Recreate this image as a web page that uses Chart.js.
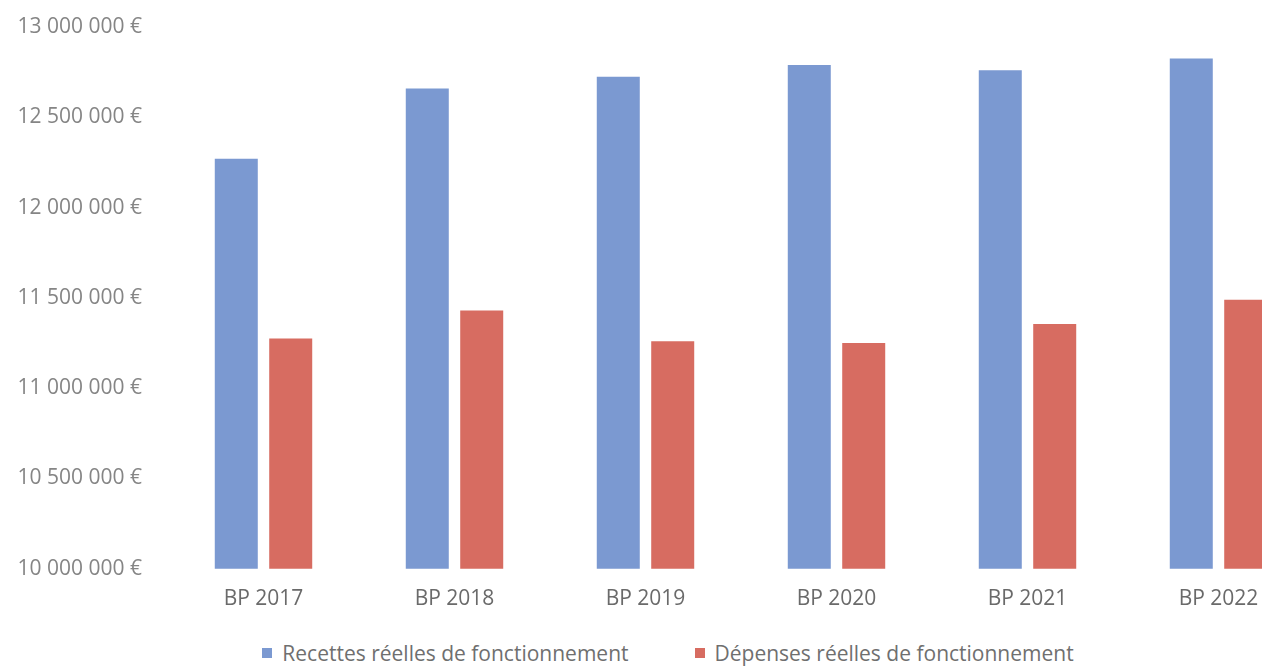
<!DOCTYPE html>
<html lang="fr">
<head>
<meta charset="utf-8">
<title>BP 2017 - 2022</title>
<script src="https://cdn.jsdelivr.net/npm/chart.js@4/dist/chart.umd.min.js"></script>
<style>
  html, body { margin: 0; padding: 0; background: #fff; overflow: hidden; }
  #wrap { position: relative; width: 1336px; height: 666px; }
  #budget { position: absolute; left: 0; top: 0; }
  #legende {
    position: absolute; left: 0; top: 639px; width: 1336px;
    display: flex; justify-content: center; gap: 66px;
    font-family: 'Open Sans', sans-serif; font-size: 21px; color: #6f6f6f;
  }
  #legende span.item { display: flex; align-items: center; white-space: nowrap; }
  #legende span.carre { display: inline-block; width: 10px; height: 10px; margin-right: 10px; }
</style>
</head>
<body>
<div id="wrap">
  <canvas id="budget" width="1336" height="632"></canvas>
  <div id="legende"></div>
</div>
<script>
const annees = ["BP 2017", "BP 2018", "BP 2019", "BP 2020", "BP 2021", "BP 2022"];
const recettes = [12270000, 12660000, 12725000, 12790000, 12760000, 12825000];
const depenses = [11275000, 11430000, 11260000, 11250000, 11355000, 11490000];
const axeMin = 10000000;
const axeMax = 13000000;
const pas = 500000;

function euros(v) {
  return String(v).replace(/\B(?=(\d{3})+(?!\d))/g, " ") + " €";
}

const police = "'Open Sans', sans-serif";

// legende en HTML, plus facile a espacer que celle du canvas
const legendeHtml = {
  id: "legendeHtml",
  afterUpdate(chart) {
    const box = document.getElementById("legende");
    box.innerHTML = "";
    chart.data.datasets.forEach(ds => {
      const item = document.createElement("span");
      item.className = "item";
      const carre = document.createElement("span");
      carre.className = "carre";
      carre.style.background = ds.backgroundColor;
      item.appendChild(carre);
      item.appendChild(document.createTextNode(ds.label));
      box.appendChild(item);
    });
  }
};

new Chart(document.getElementById("budget"), {
  type: "bar",
  data: {
    labels: annees,
    datasets: [
      {
        label: "Recettes réelles de fonctionnement",
        data: recettes,
        backgroundColor: "#7b99d1",
        categoryPercentage: 0.57,
        barPercentage: 0.79
      },
      {
        label: "Dépenses réelles de fonctionnement",
        data: depenses,
        backgroundColor: "#d76c61",
        categoryPercentage: 0.57,
        barPercentage: 0.79
      }
    ]
  },
  options: {
    responsive: false,
    animation: false,
    layout: { padding: { top: 27, left: 17, right: 22, bottom: 2 } },
    plugins: {
      tooltip: { enabled: false },
      legend: { display: false }
    },
    scales: {
      x: {
        grid: { display: false, drawTicks: false },
        border: { display: false },
        ticks: {
          padding: 18,
          color: "#6a6a6a",
          font: { family: police, size: 21 }
        }
      },
      y: {
        min: axeMin,
        max: axeMax,
        grid: { display: false, drawTicks: false },
        border: { display: false },
        // largeur fixe de l'axe et pas de marge en haut / bas
        afterFit: s => {
          s.width = 151;
          s.paddingTop = 0;
          s.paddingBottom = 0;
        },
        ticks: {
          stepSize: pas,
          padding: 26,
          color: "#858585",
          font: { family: police, size: 21 },
          callback: v => euros(v)
        }
      }
    }
  },
  plugins: [legendeHtml]
});
</script>
</body>
</html>
